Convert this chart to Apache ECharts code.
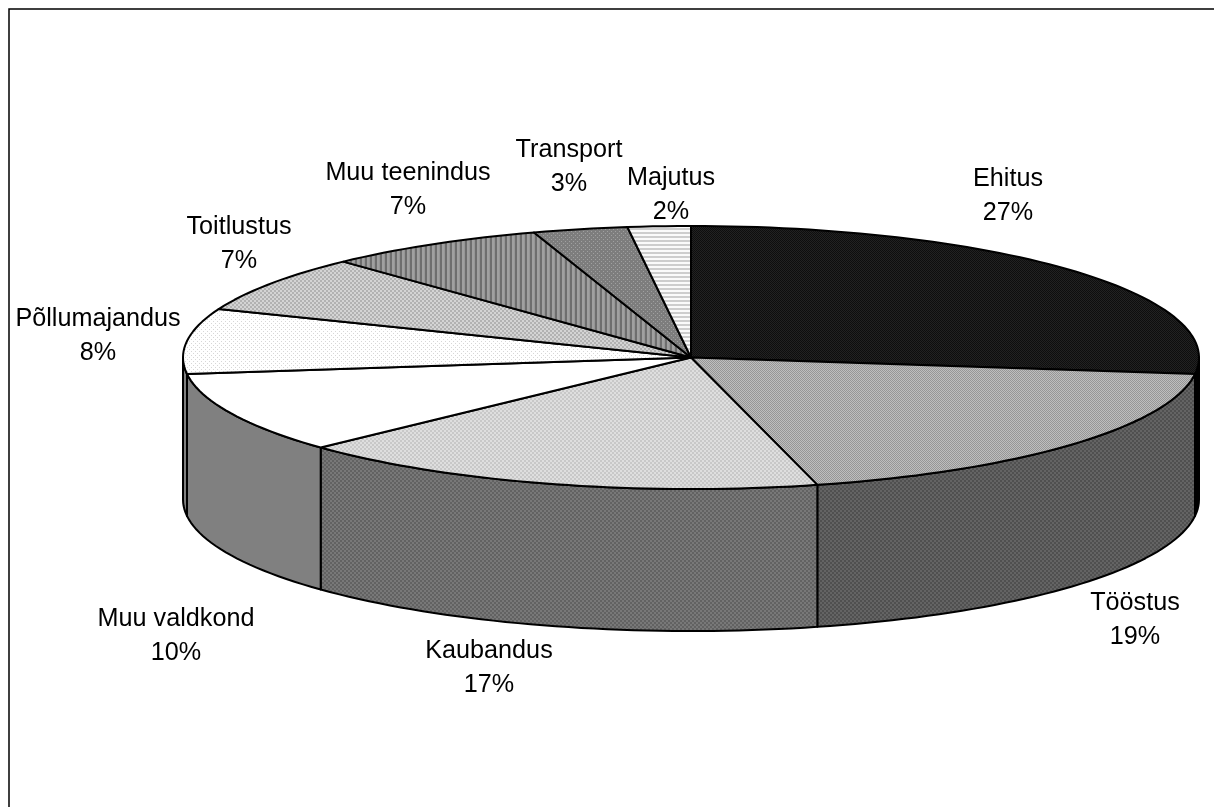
<!DOCTYPE html>
<html>
<head>
<meta charset="utf-8">
<style>html,body{margin:0;padding:0;background:#fff}#c{width:1214px;height:807px}</style>
<script src="https://cdn.jsdelivr.net/npm/echarts@6/dist/echarts.min.js"></script>
</head>
<body>
<div id="c"></div>
<script>
const categories = ['Ehitus','Tööstus','Kaubandus','Muu valdkond','Põllumajandus','Toitlustus','Muu teenindus','Transport','Majutus'];
const shares = [27,19,17,10,8,7,7,3,2];

// layout and style, kept apart from the data
const CX = 691, CY = 357.5, RX = 508, RY = 131.5, DEPTH = 142;
const labelCentres = [[1008,196.5],[1135,620.5],[489,668.5],[176,636.5],[98,336.5],[239,244.5],[408,190.5],[569,167.5],[671,195.5]];
const topTiles = [
  [[14,34,14,34],[34,14,34,14],[14,34,14,34],[34,14,34,14]],
  [[150,190,150,190],[190,150,190,150],[150,190,150,190],[190,150,190,150]],
  [[200,200,222,222],[200,200,222,222],[222,222,200,200],[222,222,200,200]],
  [[255]],
  [[255,255,255,255],[255,215,255,255],[255,255,255,255],[255,255,255,215]],
  [[178,178,212,212],[178,178,212,212],[212,212,178,178],[212,212,178,178]],
  [[110,110,160,160,150]],
  [[125,125,125,125],[125,160,125,125],[125,125,125,125],[125,125,125,160]],
  [[205],[205],[250],[250]]
];
const sideTiles = [
  [[0]],
  [[80,80,100,100],[80,80,100,100],[100,100,80,80],[100,100,80,80]],
  [[98,98,120,120],[98,98,120,120],[120,120,98,98],[120,120,98,98]],
  [[128]],
  [[128]],
  [[128]],[[128]],[[128]],[[128]]
];
function tile(rows){
  const h = rows.length, w = rows[0].length;
  const cv = document.createElement('canvas');
  cv.width = w; cv.height = h;
  const ctx = cv.getContext('2d');
  rows.forEach((r,y)=>r.forEach((g,x)=>{ctx.fillStyle='rgb('+g+','+g+','+g+')';ctx.fillRect(x,y,1,1);}));
  return {image:cv, repeat:'repeat'};
}
const topFills = topTiles.map(tile), sideFills = sideTiles.map(tile);

const total = shares.reduce((a,b)=>a+b,0);
const starts = shares.map((_,i)=>shares.slice(0,i).reduce((a,b)=>a+b,0)/total*360);
const rad = d=>d*Math.PI/180;
const pt = (deg,dy)=>[CX+RX*Math.sin(rad(deg)), CY-RY*Math.cos(rad(deg))+(dy||0)];
function arc(a,b,dy){
  const n = Math.max(2,Math.ceil(Math.abs(b-a)/1.5)), out=[];
  for(let i=0;i<=n;i++) out.push(pt(a+(b-a)*i/n,dy));
  return out;
}
function renderItem(params, api){
  const i = params.dataIndex;
  const a = starts[i], b = a + api.value(0)/total*360;
  const children = [];
  const lo = Math.max(a,90), hi = Math.min(b,270);
  if(hi>lo){
    children.push({type:'polygon',z2:1,
      shape:{points:arc(lo,hi,0).concat(arc(hi,lo,DEPTH))},
      style:{fill:sideFills[i],stroke:'#000',lineWidth:2,lineJoin:'round'}});
  }
  children.push({type:'polygon',z2:2,
    shape:{points:[[CX,CY]].concat(arc(a,b,0))},
    style:{fill:topFills[i],stroke:'#000',lineWidth:2,lineJoin:'round'}});
  children.push({type:'text',z2:3,
    x:labelCentres[i][0],y:labelCentres[i][1],
    style:{text:categories[i]+'\n'+api.value(0)+'%',fill:'#000',
      font:'25.2px "Liberation Sans", Arial, sans-serif',lineHeight:34,align:'center',verticalAlign:'middle'}});
  return {type:'group',children};
}
const chart = echarts.init(document.getElementById('c'),null,{renderer:'canvas'});
chart.setOption({
  animation:false,
  backgroundColor:'#fff',
  graphic:[{type:'polyline',silent:true,shape:{points:[[9,807],[9,9],[1214,9]]},style:{fill:null,stroke:'#000',lineWidth:1.5}}],
  series:[{type:'custom',coordinateSystem:'none',renderItem,silent:true,
    data:shares.map((v,i)=>({name:categories[i],value:[v]}))}]
});
</script>
</body>
</html>
